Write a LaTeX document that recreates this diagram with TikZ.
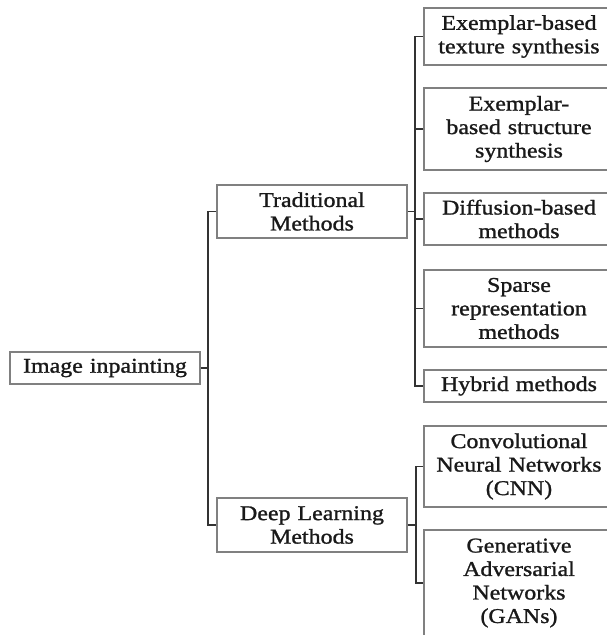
\documentclass[tikz,border=0pt]{standalone}
\usepackage{fontspec}
\setmainfont{Liberation Serif}[FakeStretch=1.14,FakeBold=1.2]
\begin{document}
\begin{tikzpicture}[x=1pt,y=-1pt,
  box/.style={draw=black!50,line width=1.4pt,rectangle,inner sep=0pt,
    minimum width=190pt,text width=186pt,align=center,text=black!90,
    font=\fontsize{21}{23.5}\selectfont},
  conn/.style={draw=black!80,line width=1.8pt}]
\useasboundingbox (0,0) rectangle (607,635);
\node[box,minimum height=32pt] (root) at (105,368) {Image inpainting};
\node[box,minimum height=53pt] (trad) at (312,211.5) {Traditional\\Methods};
\node[box,minimum height=54pt] (dl) at (312,525) {Deep Learning\\Methods};
\node[box,minimum height=57pt] (c1) at (519,36.5) {Exemplar-based\\texture synthesis};
\node[box,minimum height=82pt] (c2) at (519,129) {Exemplar-\\based structure\\synthesis};
\node[box,minimum height=52pt] (c3) at (519,219) {Diffusion-based\\methods};
\node[box,minimum height=77pt] (c4) at (519,308.5) {Sparse\\representation\\methods};
\node[box,minimum height=32pt] (c5) at (519,386) {Hybrid methods};
\node[box,minimum height=81pt] (c6) at (519,466.5) {Convolutional\\Neural Networks\\(CNN)};
\node[box,minimum height=106pt] (c7) at (519,583) {Generative\\Adversarial\\Networks\\(GANs)};
\coordinate (b1) at (208,0);
\coordinate (b2) at (415,0);
\coordinate (b3) at (416,0);
\draw[conn] (root.east) -- (root.east -| b1);
\draw[conn] (trad.west) -- (trad.west -| b1) |- (dl.west);
\draw[conn] (trad.east) -- (trad.east -| b2);
\draw[conn] (c1.west) -- (c1.west -| b2) |- (c5.west);
\draw[conn] (c2.west) -- (c2.west -| b2);
\draw[conn] (c3.west) -- (c3.west -| b2);
\draw[conn] (c4.west) -- (c4.west -| b2);
\draw[conn] (dl.east) -- (dl.east -| b3);
\draw[conn] (c6.west) -- (c6.west -| b3) |- (c7.west);
\end{tikzpicture}
\end{document}
